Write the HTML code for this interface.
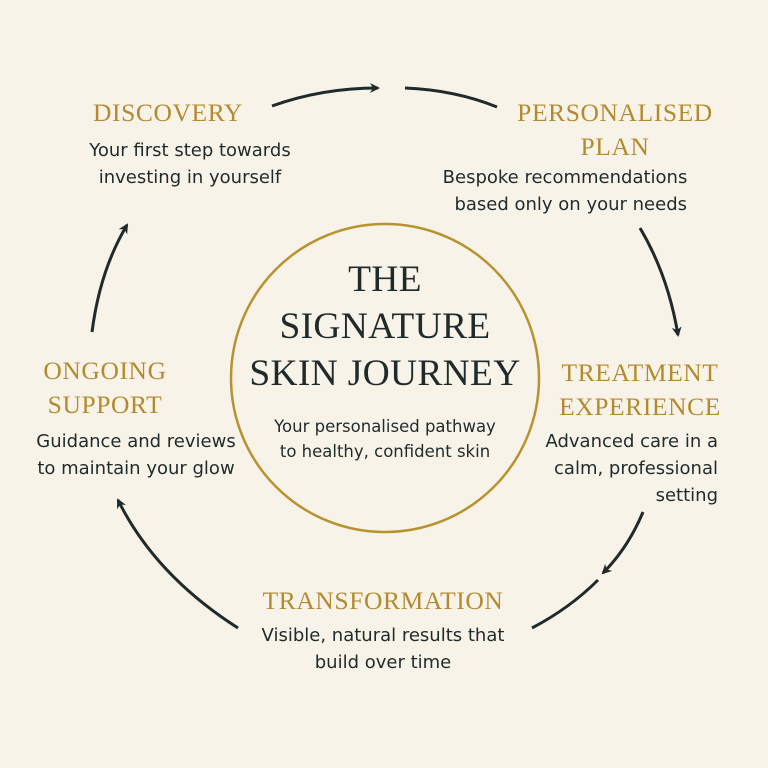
<!DOCTYPE html>
<html><head><meta charset="utf-8"><style>
html,body{margin:0;padding:0}
body{width:768px;height:768px;background:#f8f3e9;position:relative;overflow:hidden}
.t{position:absolute;font-family:"Liberation Serif",serif;color:#b38b2e;font-size:25.5px;text-align:center;line-height:34px;letter-spacing:0.6px}
.b{position:absolute;font-family:"DejaVu Sans","Liberation Sans",sans-serif;color:#1f2b2a;font-size:18px;text-align:center;line-height:27px}
</style></head><body>
<svg width="768" height="768" style="position:absolute;left:0;top:0">
<defs><marker id="a" markerWidth="10" markerHeight="10" refX="8" refY="5" orient="auto" markerUnits="userSpaceOnUse"><path d="M0,0 L10,5 L0,10 L3,5 Z" fill="#1f2b2a"/></marker></defs>
<circle cx="385" cy="378" r="154" fill="none" stroke="#b8922f" stroke-width="2.5"/>
<g fill="none" stroke="#1f2b2a" stroke-width="3" marker-end="url(#a)">
<path d="M272,106 Q322,88 378,88"/>
<path d="M640,228 Q668,275 678,335"/>
<path d="M643,512 Q628,548 603,573"/>
<path d="M238,628 Q155,575 118,500"/>
<path d="M92,332 Q100,270 127,225"/>
</g>
<g fill="none" stroke="#1f2b2a" stroke-width="3">
<path d="M405,88 Q455,90 497,107"/>
<path d="M598,580 Q570,608 532,628"/>
</g>
</svg>
<div class="t" style="left:38px;width:260px;top:96px">DISCOVERY</div>
<div class="b" style="left:50px;width:280px;top:137px">Your first step towards<br>investing in yourself</div>
<div class="t" style="left:485px;width:260px;top:96px">PERSONALISED<br>PLAN</div>
<div class="b" style="left:420px;width:290px;top:164px">Bespoke recommendations<br>&nbsp;&nbsp;based only on your needs</div>
<div class="t" style="left:530px;width:220px;top:356px">TREATMENT<br>EXPERIENCE</div>
<div class="b" style="left:500px;width:218px;top:428px;text-align:right">Advanced care in a<br>calm, professional<br>setting</div>
<div class="t" style="left:0;width:210px;top:354px">ONGOING<br>SUPPORT</div>
<div class="b" style="left:10px;width:252px;top:428px">Guidance and reviews<br>to maintain your glow</div>
<div class="t" style="left:223px;width:320px;top:584px">TRANSFORMATION</div>
<div class="b" style="left:223px;width:320px;top:622px">Visible, natural results that<br>build over time</div>
<div style="position:absolute;left:220px;width:330px;top:256px;font-family:'Liberation Serif',serif;color:#1f2b2a;font-size:37.5px;line-height:47px;text-align:center;letter-spacing:0.3px">THE<br>SIGNATURE<br>SKIN JOURNEY</div>
<div class="b" style="left:230px;width:310px;top:414px;font-size:16.5px;line-height:25px">Your personalised pathway<br>to healthy, confident skin</div>
</body></html>
